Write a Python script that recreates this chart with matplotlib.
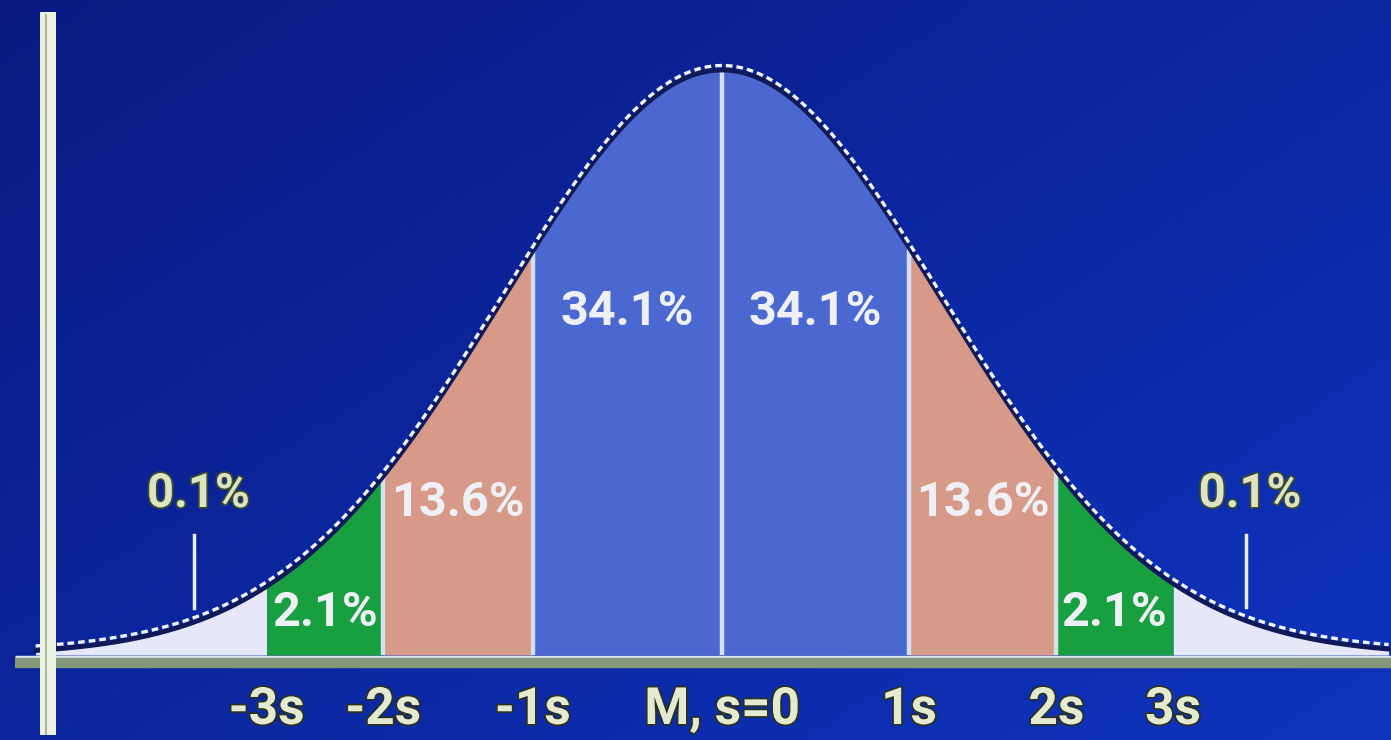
import numpy as np
import matplotlib
matplotlib.use("Agg")
import matplotlib.pyplot as plt
import matplotlib.patheffects as pe

# ---- data ----
boundaries = [-2.07, -1.54, -0.86, 0.0, 0.85, 1.52, 2.05]
region_pcts = ["2.1%", "13.6%", "34.1%", "34.1%", "13.6%", "2.1%"]
region_colors = ["#18a040", "#d89a88", "#4a68d0", "#4a68d0", "#d89a88", "#18a040"]
tail_pcts = ["0.1%", "0.1%"]
tail_label_x = [-2.40, 2.38]
tick_labels = ["-3s", "-2s", "-1s", "M, s=0", "1s", "2s", "3s"]
curve_range = [-3.12, 3.03]

PX = 220.0   # px per unit in x
PY = 585.0   # px per unit in y

fig = plt.figure(figsize=(13.91, 7.40), dpi=100)
ax = fig.add_axes([0, 0, 1, 1])
xlim = (-722 / PX, (1391 - 722) / PX)
ylim = ((655 - 740) / PY, 655 / PY)
ax.set_xlim(*xlim)
ax.set_ylim(*ylim)
ax.axis("off")

# background gradient
gx = np.linspace(0, 1, 200)
gy = np.linspace(0, 1, 120)
GX, GY = np.meshgrid(gx, gy)
t = np.clip(0.55 * GX + 0.45 * (1 - GY), 0, 1)  # bottom-right brighter
c0 = np.array([10, 26, 130]) / 255
c1 = np.array([14, 52, 190]) / 255
img = c0[None, None, :] * (1 - t[..., None]) + c1[None, None, :] * t[..., None]
ax.imshow(img, extent=[xlim[0], xlim[1], ylim[0], ylim[1]], origin="lower",
          aspect="auto", zorder=0)

def f(x):
    return np.exp(-0.5 * np.asarray(x) ** 2)

x = np.linspace(curve_range[0], curve_range[1], 800)
y = f(x)

# tails (white)
xl = np.linspace(curve_range[0], boundaries[0], 200)
ax.fill_between(xl, 0, f(xl), color="#e6e8fa", zorder=2, lw=0)
xr = np.linspace(boundaries[-1], curve_range[1], 200)
ax.fill_between(xr, 0, f(xr), color="#e6e8fa", zorder=2, lw=0)

# regions
for i in range(len(region_pcts)):
    a, b = boundaries[i], boundaries[i + 1]
    xs = np.linspace(a, b, 200)
    ax.fill_between(xs, 0, f(xs), color=region_colors[i], zorder=2, lw=0)

# divider lines
for b in boundaries[1:-1]:
    ax.plot([b, b], [0, f(b)], color="#d4e0f0", lw=3.2, zorder=3,
            solid_capstyle="butt")

# curve: dark line with white dashes above
ax.plot(x, y, color="#101a5a", lw=3.5, zorder=5, solid_capstyle="round")
ax.plot(x, y + 4.5 / PY, color="#f0f4ff", lw=2.4, zorder=6,
        dashes=(2.0, 1.2))

# horizontal axis band
ax.plot([15 / PX + xlim[0], xlim[1]], [-1.5 / PY, -1.5 / PY], color="#dfe8f0",
        lw=2.5, zorder=4, solid_capstyle="butt")
ax.plot([15 / PX + xlim[0], xlim[1]], [-8 / PY, -8 / PY], color="#86987a",
        lw=7.5, zorder=4, solid_capstyle="butt")

# vertical axis
vx = xlim[0] + 48 / PX
ax.plot([vx, vx], [ylim[0] + 5 / PY, ylim[1] - 12 / PY], color="#eef2e4",
        lw=11.5, zorder=7, solid_capstyle="butt")
ax.plot([vx - 2.5 / PX, vx - 2.5 / PX], [ylim[0] + 5 / PY, ylim[1] - 14 / PY],
        color="#9aae8a", lw=1.2, zorder=8, solid_capstyle="butt")

font = ["Roboto", "DejaVu Sans"]

# region labels
label_y = {"2.1%": 42 / PY, "13.6%": 152 / PY, "34.1%": 343 / PY}
for i, lab in enumerate(region_pcts):
    cx = 0.5 * (boundaries[i] + boundaries[i + 1])
    ax.text(cx, label_y[lab], lab, ha="center", va="center", fontsize=35,
            family=font, weight="bold", color="#eef0f6", zorder=9)

# tail labels with leader lines
for tx, lab in zip(tail_label_x, tail_pcts):
    ax.plot([tx, tx], [f(tx) + 14 / PY, 120 / PY], color="#e8ecd8", lw=2.5,
            zorder=9)
    ax.text(tx + 0.02, 161 / PY, lab, ha="center", va="center", fontsize=34,
            family=font, weight="bold", color="#dde4c4", zorder=9,
            path_effects=[pe.withStroke(linewidth=2.5, foreground="#3a4a30")])

# tick labels
for bx, lab in zip(boundaries, tick_labels):
    ax.text(bx, -55 / PY, lab, ha="center", va="center", fontsize=37,
            family=font, weight="bold", color="#e4ead0", zorder=9,
            path_effects=[pe.withStroke(linewidth=2.5, foreground="#2a3020")])

fig.savefig("out.png", dpi=100)
